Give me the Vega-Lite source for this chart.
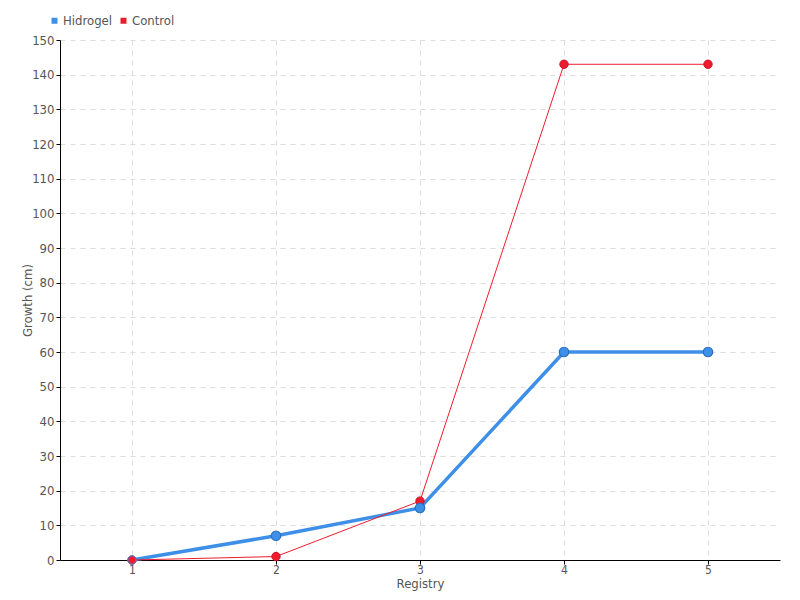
{
  "$schema": "https://vega.github.io/schema/vega-lite/v6.json",
  "width": 720,
  "height": 520,
  "autosize": {"type": "none"},
  "padding": {"left": 60, "top": 40, "right": 20, "bottom": 40},
  "background": "white",
  "config": {
    "view": {"stroke": null},
    "font": "DejaVu Sans Condensed, Roboto, sans-serif",
    "axis": {
      "labelFont": "DejaVu Sans Condensed, Roboto, sans-serif",
      "titleFont": "DejaVu Sans Condensed, Roboto, sans-serif",
      "labelColor": "#555555",
      "titleColor": "#555555",
      "labelFontSize": 13,
      "titleFontSize": 13,
      "titleFontWeight": "normal",
      "domainColor": "#000000",
      "tickColor": "#000000",
      "gridColor": "#dddddd",
      "gridDash": [5, 5]
    }
  },
  "data": {
    "values": [
      {"registry": 1, "series": "Hidrogel", "growth": 0},
      {"registry": 2, "series": "Hidrogel", "growth": 7},
      {"registry": 3, "series": "Hidrogel", "growth": 15},
      {"registry": 4, "series": "Hidrogel", "growth": 60},
      {"registry": 5, "series": "Hidrogel", "growth": 60},
      {"registry": 1, "series": "Control", "growth": 0},
      {"registry": 2, "series": "Control", "growth": 1},
      {"registry": 3, "series": "Control", "growth": 17},
      {"registry": 4, "series": "Control", "growth": 143},
      {"registry": 5, "series": "Control", "growth": 143}
    ]
  },
  "encoding": {
    "x": {
      "field": "registry",
      "type": "quantitative",
      "scale": {"domain": [0.5, 5.5], "nice": false, "zero": false},
      "axis": {
        "title": "Registry",
        "values": [1, 2, 3, 4, 5],
        "format": "d",
        "grid": true,
        "tickSize": 4,
        "labelFontSize": 12,
        "labelPadding": 0,
        "titlePadding": 2
      }
    },
    "y": {
      "field": "growth",
      "type": "quantitative",
      "scale": {"domain": [0, 150], "nice": false},
      "axis": {
        "title": "Growth (cm)",
        "values": [0,10,20,30,40,50,60,70,80,90,100,110,120,130,140,150],
        "grid": true,
        "tickSize": 4,
        "labelPadding": 2,
        "titlePadding": -3
      }
    },
    "color": {
      "field": "series",
      "type": "nominal",
      "scale": {"domain": ["Hidrogel", "Control"], "range": ["#3d8fe8", "#ee1c2e"]},
      "legend": {
        "title": null,
        "orient": "none",
        "legendX": -12,
        "legendY": -26,
        "direction": "horizontal",
        "symbolType": "square",
        "symbolSize": 36,
        "symbolStrokeWidth": 0,
        "labelFont": "DejaVu Sans Condensed, Roboto, sans-serif",
        "labelFontSize": 13,
        "labelColor": "#555555",
        "columnPadding": 4,
        "symbolOffset": 0,
        "labelOffset": 2
      }
    }
  },
  "layer": [
    {
      "transform": [{"filter": "datum.series == 'Hidrogel'"}],
      "mark": {"type": "line", "strokeWidth": 3.5, "color": "#3d8fe8"}
    },
    {
      "transform": [{"filter": "datum.series == 'Control'"}],
      "mark": {"type": "line", "strokeWidth": 1, "color": "#ee1c2e"}
    },
    {
      "transform": [{"filter": "datum.series == 'Control'"}],
      "mark": {"type": "point", "filled": true, "size": 70, "opacity": 1, "color": "#ee1c2e", "stroke": "#d01020", "strokeWidth": 1}
    },
    {
      "transform": [{"filter": "datum.series == 'Hidrogel' && datum.registry > 1"}],
      "mark": {"type": "point", "filled": true, "size": 90, "opacity": 1, "color": "#3d8fe8", "stroke": "#2a6fc0", "strokeWidth": 1.2}
    },
    {
      "transform": [{"filter": "datum.series == 'Control' && datum.registry == 1"}],
      "mark": {"type": "point", "filled": true, "size": 70, "opacity": 1, "color": "#ee1c2e", "stroke": "#3d8fe8", "strokeWidth": 1}
    }
  ]
}
